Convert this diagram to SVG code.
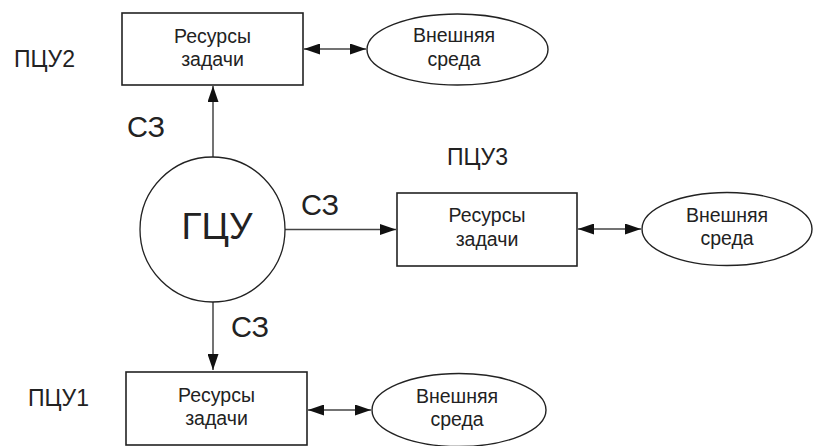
<svg xmlns="http://www.w3.org/2000/svg" width="815" height="446" viewBox="0 0 815 446">
  <defs>
    <marker id="arrow" viewBox="0 0 16 11" refX="16" refY="5.5" markerWidth="16" markerHeight="11" markerUnits="userSpaceOnUse" orient="auto-start-reverse">
      <path d="M0,0 L16,5.5 L0,11 Z" fill="#111"/>
    </marker>
  </defs>
  <style>
    .box { fill: #fff; stroke: #222; stroke-width: 1.6; }
    .env { fill: #fff; stroke: #222; stroke-width: 1.4; }
    .hub { fill: #fff; stroke: #222; stroke-width: 1.3; }
    .link { stroke: #444; stroke-width: 1.5; fill: none; }
    text { font-family: "Liberation Sans", Arial, sans-serif; fill: #222; }
    .node { font-size: 19.5px; text-anchor: middle; }
    .lbl { font-size: 23px; }
    .sz { font-size: 29px; }
    .big { font-size: 37px; text-anchor: middle; }
  </style>
  <rect width="815" height="446" fill="#fff"/>

  <!-- connectors -->
  <g id="connectors">
    <line class="link" x1="213" y1="160" x2="213" y2="86" marker-end="url(#arrow)"/>
    <line class="link" x1="285" y1="229.5" x2="396" y2="229.5" marker-end="url(#arrow)"/>
    <line class="link" x1="213" y1="302" x2="213" y2="370" marker-end="url(#arrow)"/>
    <line class="link" x1="304" y1="49" x2="366" y2="49" marker-start="url(#arrow)" marker-end="url(#arrow)"/>
    <line class="link" x1="578" y1="229" x2="641" y2="229" marker-start="url(#arrow)" marker-end="url(#arrow)"/>
    <line class="link" x1="308" y1="410" x2="371" y2="410" marker-start="url(#arrow)" marker-end="url(#arrow)"/>
  </g>

  <!-- central control unit -->
  <g id="gcu">
    <circle class="hub" cx="212.5" cy="229.5" r="72.5"/>
    <text class="big" x="217" y="238.5">ГЦУ</text>
  </g>

  <!-- channel labels -->
  <g id="labels">
    <text class="sz" x="127" y="137">СЗ</text>
    <text class="sz" x="301" y="215">СЗ</text>
    <text class="sz" x="231" y="337">СЗ</text>
    <text class="lbl" x="14" y="67">ПЦУ2</text>
    <text class="lbl" x="447" y="165">ПЦУ3</text>
    <text class="lbl" x="28" y="406">ПЦУ1</text>
  </g>

  <!-- ПЦУ2 -->
  <g id="res2">
    <rect class="box" x="122" y="13" width="181" height="72"/>
    <text class="node" x="212.5" y="42.5">Ресурсы</text>
    <text class="node" x="212.5" y="66">задачи</text>
  </g>
  <g id="env2">
    <ellipse class="env" cx="457.5" cy="49.5" rx="90.5" ry="35.5"/>
    <text class="node" x="454" y="42">Внешняя</text>
    <text class="node" x="454" y="65.5">среда</text>
  </g>

  <!-- ПЦУ3 -->
  <g id="res3">
    <rect class="box" x="397" y="193" width="180" height="73"/>
    <text class="node" x="487" y="222">Ресурсы</text>
    <text class="node" x="487" y="245.5">задачи</text>
  </g>
  <g id="env3">
    <ellipse class="env" cx="727" cy="229" rx="85" ry="36.5"/>
    <text class="node" x="727" y="221.5">Внешняя</text>
    <text class="node" x="727" y="245">среда</text>
  </g>

  <!-- ПЦУ1 -->
  <g id="res1">
    <rect class="box" x="126" y="372" width="181" height="73"/>
    <text class="node" x="216.5" y="401.5">Ресурсы</text>
    <text class="node" x="216.5" y="425">задачи</text>
  </g>
  <g id="env1">
    <ellipse class="env" cx="459" cy="410" rx="87" ry="36.5"/>
    <text class="node" x="457" y="402.5">Внешняя</text>
    <text class="node" x="457" y="426">среда</text>
  </g>
</svg>
